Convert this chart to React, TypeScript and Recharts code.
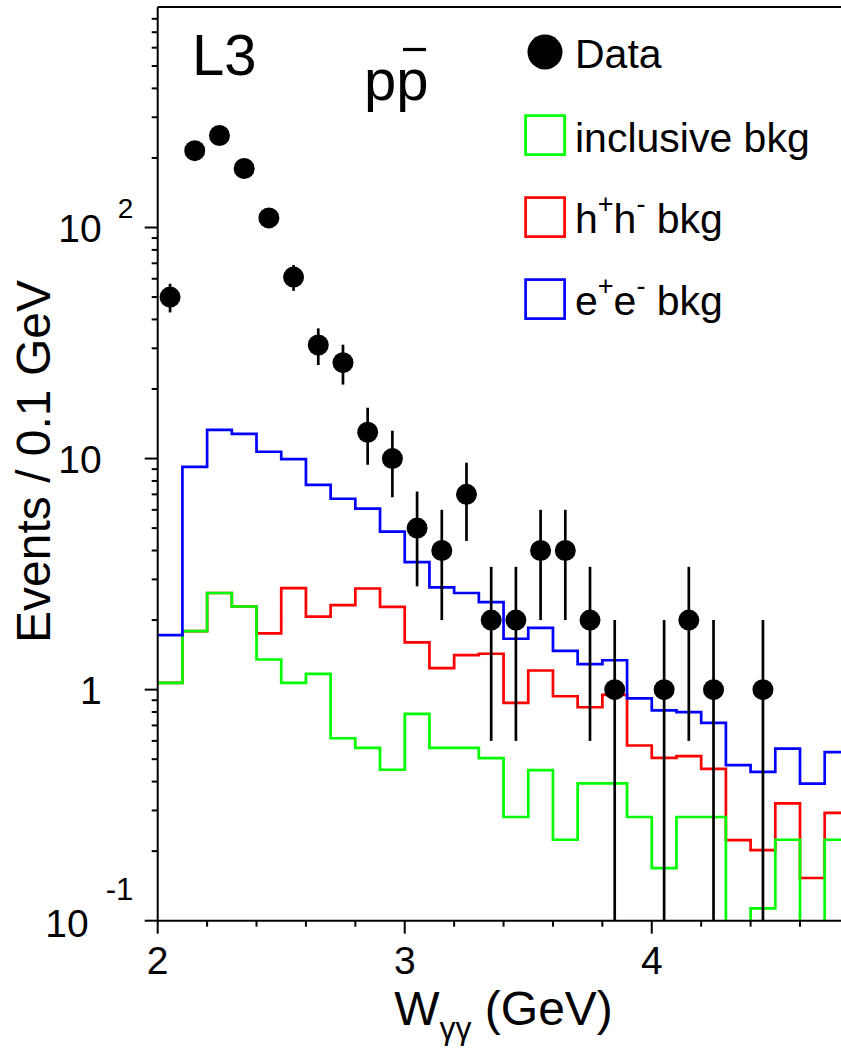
import React from "react";
import { ComposedChart, ErrorBar, Line, ReferenceLine, Scatter, XAxis, YAxis } from "recharts";

// histogram bins (lower edges, GeV) and the upper edge of the last bin
const BIN_LOW = [
  2.0, 2.1, 2.2, 2.3, 2.4, 2.5, 2.6, 2.7, 2.8, 2.9, 3.0, 3.1, 3.2, 3.3,
  3.4, 3.5, 3.6, 3.7, 3.8, 3.9, 4.0, 4.1, 4.2, 4.3, 4.4, 4.5, 4.6, 4.7,
];
const BIN_END = 4.8;

// backgrounds (events / 0.1 GeV); 0.01 = empty bin, below the axis
const INCLUSIVE_BKG = [
  1.07, 1.79, 2.62, 2.29, 1.35, 1.07, 1.17, 0.616, 0.56, 0.45, 0.785, 0.56, 0.56, 0.505,
  0.281, 0.448, 0.224, 0.393, 0.393, 0.281, 0.169, 0.281, 0.281, 0.01, 0.113, 0.224, 0.01, 0.224,
];
const HH_BKG = [
  1.07, 1.79, 2.62, 2.29, 1.75, 2.75, 2.07, 2.32, 2.74, 2.28, 1.6, 1.24, 1.41, 1.43,
  0.876, 1.21, 0.936, 0.839, 0.95, 0.573, 0.507, 0.515, 0.454, 0.223, 0.202, 0.322, 0.153, 0.293,
];
const EE_BKG = [
  1.72, 9.2, 13.3, 12.8, 10.7, 9.95, 7.7, 6.7, 6.07, 4.83, 3.56, 2.77, 2.62, 2.39,
  1.66, 1.85, 1.47, 1.29, 1.34, 0.917, 0.814, 0.8, 0.718, 0.471, 0.441, 0.556, 0.392, 0.536,
];

// data points
const DATA_X = [
  2.05, 2.15, 2.25, 2.35, 2.45, 2.55, 2.65, 2.75, 2.85, 2.95, 3.05, 3.15,
  3.25, 3.35, 3.45, 3.55, 3.65, 3.75, 3.85, 4.05, 4.15, 4.25, 4.45,
];
const DATA_N = [50, 215, 250, 180, 110, 61, 31, 26, 13, 10, 5, 4, 7, 2, 2, 4, 4, 2, 1, 1, 2, 1, 1];
const DATA_ERR = [
  7.1, 14.7, 15.8, 13.4, 10.5, 7.8, 5.6, 5.1, 3.6, 3.2, 2.2, 2.0, 2.6, 1.4, 1.4, 2.0, 2.0, 1.4, 1.0, 1.0,
  1.4, 1.0, 1.0,
];

const X_TICKS = [2, 2.2, 2.4, 2.6, 2.8, 3, 3.2, 3.4, 3.6, 3.8, 4, 4.2, 4.4, 4.6, 4.8];
const Y_TICKS = [
  0.1, 0.2, 0.3, 0.4, 0.5, 0.6, 0.7, 0.8, 0.9,
  1, 2, 3, 4, 5, 6, 7, 8, 9,
  10, 20, 30, 40, 50, 60, 70, 80, 90,
  100, 200, 300, 400, 500, 600, 700, 800,
];
const Y_MIN = 0.1;
const Y_MAX = 900;

const FONT = "'Liberation Sans', Arial, Helvetica, sans-serif";

const histo = (vals: number[]) =>
  BIN_LOW.map((x, i) => ({ x, v: vals[i] })).concat({ x: BIN_END, v: vals[vals.length - 1] });

const points = DATA_X.map((x, i) => ({
  x,
  y: DATA_N[i],
  err: [Math.min(DATA_ERR[i], DATA_N[i] - Y_MIN), DATA_ERR[i]],
}));

function XTick({ x, y, payload }: any) {
  const v = payload.value as number;
  const major = Math.abs(v - Math.round(v)) < 1e-6;
  return (
    <g>
      <line x1={x} x2={x} y1={y} y2={y + (major ? 13 : 6)} stroke="#000" strokeWidth={2} />
      {major && (
        <text x={x} y={y + 53} textAnchor="middle" fontSize={39} fontFamily={FONT} fill="#000">
          {v}
        </text>
      )}
    </g>
  );
}

function YTick({ x, y, payload }: any) {
  const v = payload.value as number;
  const major = v === 0.1 || v === 1 || v === 10 || v === 100;
  let label: React.ReactNode = null;
  if (v === 100) {
    label = (
      <>
        <text x={x - 56} y={y + 15} textAnchor="end" fontSize={39} fontFamily={FONT}>10</text>
        <text x={x - 40} y={y - 9} fontSize={28} fontFamily={FONT}>2</text>
      </>
    );
  } else if (v === 10) {
    label = <text x={x - 56} y={y + 14} textAnchor="end" fontSize={39} fontFamily={FONT}>10</text>;
  } else if (v === 1) {
    label = <text x={x - 56} y={y + 14} textAnchor="end" fontSize={39} fontFamily={FONT}>1</text>;
  } else if (v === 0.1) {
    label = (
      <>
        <text x={x - 69} y={y + 16} textAnchor="end" fontSize={39} fontFamily={FONT}>10</text>
        <text x={x - 52} y={y - 21} fontSize={31} fontFamily={FONT}>-1</text>
      </>
    );
  }
  return (
    <g>
      <line x1={x - (major ? 13 : 6)} x2={x} y1={y} y2={y} stroke="#000" strokeWidth={2} />
      {label}
    </g>
  );
}

const Dot = (p: any) => <circle cx={p.cx} cy={p.cy} r={10.5} fill="#000" />;

export default function App() {
  return (
    <div
      style={{
        position: "fixed",
        left: 0,
        top: 0,
        width: 841,
        height: 1051,
        overflow: "hidden",
        background: "#fff",
      }}
    >
      <ComposedChart width={870} height={1051} margin={{ top: 7, right: 20.6, bottom: 0, left: 0 }}>
        <XAxis
          type="number"
          dataKey="x"
          domain={[2, BIN_END]}
          allowDataOverflow
          ticks={X_TICKS}
          interval={0}
          tickSize={0}
          tickMargin={0}
          tickLine={false}
          tick={<XTick />}
          height={130.3}
          axisLine={{ stroke: "#000", strokeWidth: 2 }}
        />
        <YAxis
          type="number"
          scale="log"
          domain={[Y_MIN, Y_MAX]}
          allowDataOverflow
          ticks={Y_TICKS}
          interval={0}
          tickSize={0}
          tickMargin={0}
          tickLine={false}
          tick={<YTick />}
          width={157.7}
          axisLine={{ stroke: "#000", strokeWidth: 2 }}
        />
        <ReferenceLine y={Y_MAX} stroke="#000" strokeWidth={2} />
        <Line
          data={histo(HH_BKG)}
          dataKey="v"
          name="h+h- bkg"
          type="stepAfter"
          stroke="#ff0000"
          strokeWidth={2.7}
          dot={false}
          activeDot={false}
          isAnimationActive={false}
        />
        <Line
          data={histo(INCLUSIVE_BKG)}
          dataKey="v"
          name="inclusive bkg"
          type="stepAfter"
          stroke="#00ff00"
          strokeWidth={2.7}
          dot={false}
          activeDot={false}
          isAnimationActive={false}
        />
        <Line
          data={histo(EE_BKG)}
          dataKey="v"
          name="e+e- bkg"
          type="stepAfter"
          stroke="#0000ff"
          strokeWidth={2.7}
          dot={false}
          activeDot={false}
          isAnimationActive={false}
        />
        <Scatter data={points} dataKey="y" name="Data" shape={Dot} isAnimationActive={false}>
          <ErrorBar dataKey="err" direction="y" width={0} stroke="#000" strokeWidth={2.7} />
        </Scatter>

        {/* labels */}
        <g fontFamily={FONT} fill="#000">
          <text x={192} y={75} fontSize={58}>L3</text>
          <text x={364} y={100} fontSize={58}>pp</text>
          {/* anti-proton bar over the second p */}
          <line x1={403} x2={426} y1={49.5} y2={49.5} stroke="#000" strokeWidth={3.2} />

          <circle cx={545} cy={52} r={17.5} fill="#000" />
          <text x={575} y={68} fontSize={41}>Data</text>
          <rect x={525.6} y={115.6} width={39} height={39} fill="none" stroke="#00ff00" strokeWidth={2.7} />
          <text x={575} y={152} fontSize={41}>inclusive bkg</text>
          <rect x={525.6} y={197.6} width={39} height={39} fill="none" stroke="#ff0000" strokeWidth={2.7} />
          <text x={575} y={233} fontSize={41}>
            h<tspan fontSize={27} dy={-20}>+</tspan>
            <tspan dy={20}>h</tspan>
            <tspan fontSize={27} dy={-20}>-</tspan>
            <tspan dy={20}> bkg</tspan>
          </text>
          <rect x={525.6} y={279.6} width={39} height={39} fill="none" stroke="#0000ff" strokeWidth={2.7} />
          <text x={575} y={315} fontSize={41}>
            e<tspan fontSize={27} dy={-20}>+</tspan>
            <tspan dy={20}>e</tspan>
            <tspan fontSize={27} dy={-20}>-</tspan>
            <tspan dy={20}> bkg</tspan>
          </text>

          <text x={503.5} y={1025} textAnchor="middle" fontSize={48}>
            W<tspan fontSize={32} dy={13.6}>γγ</tspan>
            <tspan dy={-13.6}> (GeV)</tspan>
          </text>
          <text x={50} y={461.5} textAnchor="middle" fontSize={48} transform="rotate(-90, 50, 461.5)">
            Events / 0.1 GeV
          </text>
        </g>
      </ComposedChart>
    </div>
  );
}
